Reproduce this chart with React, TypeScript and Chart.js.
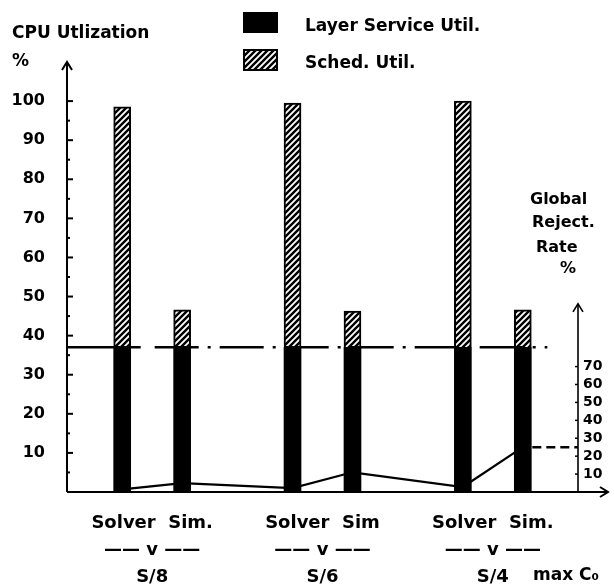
import React, { useEffect, useRef } from 'react';
import { Chart, registerables } from 'chart.js';

Chart.register(...registerables);

// ---- data ----
const groups = ['S/8', 'S/6', 'S/4'];
const groupTopLines = ['Solver  Sim.', 'Solver  Sim', 'Solver  Sim.'];
const groupMidLine = '—— v ——';
const layerSolver = [37, 37, 37];
const layerSim = [37, 37, 37];
const schedSolver = [61.5, 62.5, 63];
const schedSim = [9.6, 9.3, 9.6];
const rejectSolver = [1.5, 2.2, 2.8];
const rejectSim = [5, 11, 25];
const leftTickMin = 10;
const leftTickMax = 100;
const rightTickMin = 10;
const rightTickMax = 70;
const legendLabels = ['Layer Service Util.', 'Sched. Util.'];
const yTitleLines = ['CPU Utlization', '%'];
const rightTitleLines = ['Global', 'Reject.', 'Rate', '%'];
const xUnitLabel = 'max C₀';

const FONT = '"DejaVu Sans", sans-serif';
const PAIR_OFFSET = 0.176; // half distance between Solver and Sim bars, in group units
const BAR_THICKNESS = 17;

function makeHatch(): CanvasPattern | string {
  const c = document.createElement('canvas');
  c.width = 6;
  c.height = 6;
  const g = c.getContext('2d');
  if (!g) return '#888';
  g.fillStyle = '#fff';
  g.fillRect(0, 0, 6, 6);
  g.strokeStyle = '#000';
  g.lineWidth = 2.4;
  g.beginPath();
  g.moveTo(0, 6); g.lineTo(6, 0);
  g.moveTo(-3, 3); g.lineTo(3, -3);
  g.moveTo(3, 9); g.lineTo(9, 3);
  g.stroke();
  const p = g.createPattern(c, 'repeat');
  return p || '#888';
}

function arrowUp(ctx: CanvasRenderingContext2D, x: number, y: number) {
  ctx.beginPath();
  ctx.moveTo(x - 5, y + 8);
  ctx.lineTo(x, y);
  ctx.lineTo(x + 5, y + 8);
  ctx.stroke();
}

const decorPlugin = {
  id: 'decor',
  afterDatasetsDraw(chart: any) {
    const ctx: CanvasRenderingContext2D = chart.ctx;
    const { left, right, top, bottom } = chart.chartArea;
    const y = chart.scales.y;
    const yR = chart.scales.yR;
    ctx.save();
    ctx.strokeStyle = '#000';
    ctx.fillStyle = '#000';
    ctx.lineCap = 'butt';

    const bars = chart.getDatasetMeta(0).data;
    const firstBar = bars[0];
    const lastBar = bars[bars.length - 1];

    // horizontal dashed line at layer service level
    const ly = y.getPixelForValue(layerSolver[0]);
    const solidEnd = firstBar.x + firstBar.width / 2 + 10;
    const dashEnd = lastBar.x + lastBar.width / 2 + 16;
    ctx.lineWidth = 2.5;
    ctx.beginPath();
    ctx.moveTo(left, ly);
    ctx.lineTo(solidEnd, ly);
    ctx.stroke();
    ctx.setLineDash([44, 9, 3, 9]);
    ctx.beginPath();
    ctx.moveTo(solidEnd + 14, ly);
    ctx.lineTo(dashEnd, ly);
    ctx.stroke();
    ctx.setLineDash([]);

    // dashed extension of reject rate to right axis
    const lineMeta = chart.getDatasetMeta(2);
    const lastPt = lineMeta.data[lineMeta.data.length - 1];
    ctx.lineWidth = 2.5;
    ctx.setLineDash([9, 5]);
    ctx.beginPath();
    ctx.moveTo(lastBar.x + lastBar.width / 2 + 1, lastPt.y);
    ctx.lineTo(right, lastPt.y);
    ctx.stroke();
    ctx.setLineDash([]);

    // axes
    ctx.lineWidth = 2;
    ctx.beginPath();
    ctx.moveTo(left, bottom);
    ctx.lineTo(left, top + 1);
    ctx.stroke();
    arrowUp(ctx, left, top);
    ctx.beginPath();
    ctx.moveTo(left, bottom);
    ctx.lineTo(chart.width - 6, bottom);
    ctx.stroke();
    ctx.beginPath();
    ctx.moveTo(chart.width - 14, bottom - 5);
    ctx.lineTo(chart.width - 6, bottom);
    ctx.lineTo(chart.width - 14, bottom + 5);
    ctx.stroke();
    const rTop = yR.getPixelForValue(105);
    ctx.lineWidth = 1.6;
    ctx.beginPath();
    ctx.moveTo(right, bottom);
    ctx.lineTo(right, rTop + 1);
    ctx.stroke();
    arrowUp(ctx, right, rTop);

    // left axis inner ticks
    ctx.lineWidth = 2;
    for (let v = 5; v <= leftTickMax; v += 5) {
      const py = y.getPixelForValue(v);
      ctx.beginPath();
      ctx.moveTo(left, py);
      ctx.lineTo(left + (v % 10 === 0 ? 6 : 3), py);
      ctx.stroke();
    }
    // right axis small ticks
    ctx.lineWidth = 1.5;
    for (let v = rightTickMin; v <= rightTickMax; v += 10) {
      const py = yR.getPixelForValue(v);
      ctx.beginPath();
      ctx.moveTo(right - 3, py);
      ctx.lineTo(right, py);
      ctx.stroke();
    }

    // texts
    ctx.textBaseline = 'alphabetic';
    ctx.textAlign = 'left';
    ctx.font = `bold 17px ${FONT}`;
    ctx.fillText(yTitleLines[0], 12, 38);
    ctx.fillText(yTitleLines[1], 12, 66);

    // legend
    ctx.fillRect(243, 12, 35, 21);
    ctx.fillStyle = chart.$hatch;
    ctx.fillRect(243, 49, 35, 22);
    ctx.fillStyle = '#000';
    ctx.lineWidth = 2;
    ctx.strokeRect(244, 50, 33, 20);
    ctx.font = `bold 17px ${FONT}`;
    ctx.fillText(legendLabels[0], 305, 31);
    ctx.fillText(legendLabels[1], 305, 68);

    // right title
    ctx.font = `bold 16px ${FONT}`;
    ctx.fillText(rightTitleLines[0], 530, 204);
    ctx.fillText(rightTitleLines[1], 532, 227);
    ctx.fillText(rightTitleLines[2], 536, 252);
    ctx.fillText(rightTitleLines[3], 560, 273);

    // x unit
    ctx.font = `bold 17px ${FONT}`;
    ctx.fillText(xUnitLabel, 533, 580);

    ctx.restore();
  },
};

export default function App() {
  const ref = useRef<HTMLCanvasElement | null>(null);
  useEffect(() => {
    if (!ref.current) return;
    const hatch = makeHatch();
    const xs = groups.flatMap((_, i) => [i - PAIR_OFFSET, i + PAIR_OFFSET]);
    const layer = groups.flatMap((_, i) => [layerSolver[i], layerSim[i]]);
    const sched = groups.flatMap((_, i) => [schedSolver[i], schedSim[i]]);
    const reject = groups.flatMap((_, i) => [rejectSolver[i], rejectSim[i]]);
    const chart: any = new Chart(ref.current, {
      type: 'bar',
      data: {
        labels: groups.map((g, i) => [groupTopLines[i], groupMidLine, g]),
        datasets: [
          {
            type: 'bar' as const,
            label: legendLabels[0],
            data: xs.map((x, k) => ({ x, y: layer[k] })) as any,
            xAxisID: 'x2',
            yAxisID: 'y',
            grouped: false,
            barThickness: BAR_THICKNESS,
            backgroundColor: '#000',
            borderWidth: 0,
            order: 0,
          },
          {
            type: 'bar' as const,
            label: legendLabels[1],
            data: xs.map((x, k) => ({ x, y: [layer[k], layer[k] + sched[k]] })) as any,
            xAxisID: 'x2',
            yAxisID: 'y',
            grouped: false,
            barThickness: BAR_THICKNESS,
            backgroundColor: hatch as any,
            borderColor: '#000',
            borderWidth: 2,
            borderSkipped: 'start',
            order: 0,
          },
          {
            type: 'line' as const,
            label: 'Global Reject. Rate',
            data: xs.map((x, k) => ({ x, y: reject[k] })) as any,
            xAxisID: 'x2',
            yAxisID: 'yR',
            borderColor: '#000',
            borderWidth: 2.2,
            pointRadius: 0,
            tension: 0,
            fill: false,
            order: 1,
          },
        ],
      },
      options: {
        animation: false,
        responsive: false,
        devicePixelRatio: 1,
        layout: { padding: { top: 62, left: 0, right: 0, bottom: 0 } },
        plugins: { legend: { display: false }, tooltip: { enabled: false }, title: { display: false } },
        scales: {
          x: {
            type: 'category',
            offset: true,
            grid: { display: false },
            border: { display: false },
            ticks: {
              color: '#000',
              font: { family: FONT, size: 18, weight: 'bold', lineHeight: 1.5 },
              padding: 10,
              maxRotation: 0,
              autoSkip: false,
            },
            afterFit: (s: any) => { s.height = 96; },
          },
          x2: { type: 'linear', display: false, offset: false, grid: { offset: false }, min: -0.5, max: 2.5 },
          y: {
            type: 'linear',
            position: 'left',
            min: 0,
            max: 110,
            grid: { display: false, drawTicks: false },
            border: { display: false },
            ticks: {
              stepSize: 10,
              maxTicksLimit: 40,
              autoSkip: false,
              color: '#000',
              padding: 22,
              font: { family: FONT, size: 16, weight: 'bold' },
              callback: (v: any) => (v >= leftTickMin && v <= leftTickMax ? String(v) : ''),
            },
            afterFit: (s: any) => { s.width = 67; },
          },
          yR: {
            type: 'linear',
            position: 'right',
            min: 0,
            max: 240,
            grid: { display: false, drawTicks: false },
            border: { display: false },
            ticks: {
              stepSize: 10,
              maxTicksLimit: 40,
              autoSkip: false,
              color: '#000',
              padding: 5,
              font: { family: FONT, size: 14, weight: 'bold' },
              callback: (v: any) => (v >= rightTickMin && v <= rightTickMax ? String(v) : ''),
            },
            afterFit: (s: any) => { s.width = 36; },
          },
        },
      } as any,
      plugins: [decorPlugin],
    });
    chart.$hatch = hatch;
    chart.draw();
    return () => chart.destroy();
  }, []);
  return (
    <div style={{ position: 'fixed', left: 0, top: 0, width: 614, height: 588, background: '#fff' }}>
      <canvas ref={ref} width={614} height={588} style={{ display: 'block' }} />
    </div>
  );
}
